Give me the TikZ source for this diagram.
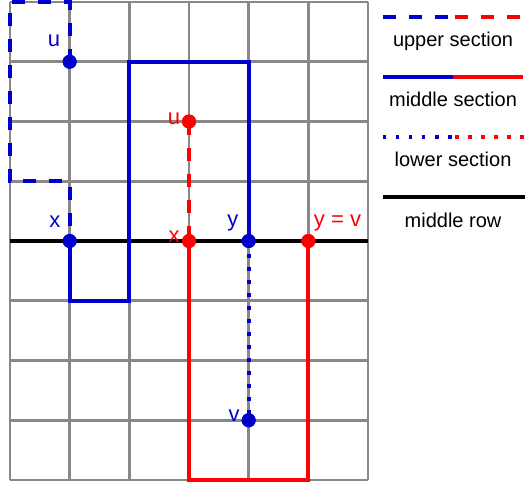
\documentclass[tikz,border=0pt]{standalone}
\usepackage{fontspec}
\setmainfont{Liberation Sans}
\definecolor{myblue}{RGB}{0,0,204}
\definecolor{myred}{RGB}{255,0,0}
\definecolor{gridgray}{RGB}{136,136,136}
\tikzset{
  gridline/.style={draw=gridgray, line width=2.8pt},
  rowline/.style={draw=black, line width=4.2pt},
  upperb/.style={draw=myblue, line width=4pt, dash pattern=on 13pt off 13pt},
  upperr/.style={draw=myred, line width=4pt, dash pattern=on 13pt off 13pt},
  middleb/.style={draw=myblue, line width=4pt},
  middler/.style={draw=myred, line width=4pt},
  lowerb/.style={draw=myblue, line width=4pt, dash pattern=on 3.5pt off 9.5pt},
  lowerr/.style={draw=myred, line width=4pt, dash pattern=on 3.5pt off 9.5pt},
  bdot/.style={circle, fill=myblue, minimum size=14pt, inner sep=0pt},
  rdot/.style={circle, fill=myred, minimum size=14pt, inner sep=0pt},
  lbl/.style={anchor=base, inner sep=0pt, font=\fontsize{22}{26}\selectfont},
  blbl/.style={lbl, text=myblue},
  rlbl/.style={lbl, text=myred},
  legtext/.style={anchor=base, inner sep=0pt, font=\fontsize{20}{24}\selectfont, text=black}
}
\begin{document}
\begin{tikzpicture}[x=59.667pt, y=-59.75pt]
\useasboundingbox (-0.1676,-0.0335) rectangle (8.631,8.0837);
% grid
\foreach \i in {0,...,6} { \draw[gridline] (\i,0) -- (\i,8); }
\foreach \j in {0,...,8} { \draw[gridline] (0,\j) -- (6,\j); }
% middle row
\coordinate (rowL) at (0,4);
\coordinate (rowR) at (6,4);
\draw[rowline] (rowL) -- (rowR);
% corner coordinates
\coordinate (b1) at (1,0);
\coordinate (b2) at (0,0);
\coordinate (b3) at (0,3);
\coordinate (b4) at (1,3);
\coordinate (b5) at (1,5);
\coordinate (b6) at (2,5);
\coordinate (b7) at (2,1);
\coordinate (b8) at (4,1);
\coordinate (r1) at (3,8);
\coordinate (r2) at (5,8);
% dots (positions)
\node[bdot] (bu) at (1,1) {};
\node[bdot] (bx) at (1,4) {};
\node[bdot] (by) at (4,4) {};
\node[bdot] (bv) at (4,7) {};
\node[rdot] (ru) at (3,2) {};
\node[rdot] (rx) at (3,4) {};
\node[rdot] (ry) at (5,4) {};
% blue paths
\draw[upperb] (bu.center) -- (b1) -- (b2) -- (b3) -- (b4) -- (bx.center);
\draw[middleb] (bx.center) -- (b5) -- (b6) -- (b7) -- (b8) -- (by.center);
\draw[lowerb] (by.center) -- (bv.center);
% red paths
\draw[upperr] (ru.center) -- (rx.center);
\draw[middler] (rx.center) -- (r1) -- (r2) -- (ry.center);
% redraw dots on top
\node[bdot] at (bu) {};
\node[bdot] at (bx) {};
\node[bdot] at (by) {};
\node[bdot] at (bv) {};
\node[rdot] at (ru) {};
\node[rdot] at (rx) {};
\node[rdot] at (ry) {};
% labels
\node[blbl] (lbu) at (0.737,0.753) {u};
\node[blbl] (lbx) at (0.754,3.766) {x};
\node[blbl] (lby) at (3.737,3.749) {y};
\node[blbl] (lbv) at (3.754,7.013) {v};
\node[rlbl] (lru) at (2.749,2.042) {u};
\node[rlbl] (lrx) at (2.749,4.017) {x};
\node[rlbl] (lry) at (5.489,3.749) {y = v};
% legend
\coordinate (l1a) at (6.251,0.251);
\coordinate (l1m) at (7.458,0.251);
\coordinate (l1b) at (8.631,0.251);
\draw[upperb] (l1a) -- (l1m);
\draw[upperr] (l1m) -- (l1b);
\node[legtext] (t1) at (7.425,0.753) {upper section};
\coordinate (l2a) at (6.251,1.255);
\coordinate (l2m) at (7.425,1.255);
\coordinate (l2b) at (8.60,1.255);
\draw[middleb] (l2a) -- (l2m);
\draw[middler] (l2m) -- (l2b);
\node[legtext] (t2) at (7.425,1.757) {middle section};
\coordinate (l3a) at (6.251,2.259);
\coordinate (l3m) at (7.458,2.259);
\coordinate (l3b) at (8.631,2.259);
\draw[lowerb] (l3a) -- (l3m);
\draw[lowerr] (l3m) -- (l3b);
\node[legtext] (t3) at (7.425,2.745) {lower section};
\coordinate (l4a) at (6.251,3.264);
\coordinate (l4b) at (8.631,3.264);
\draw[rowline] (l4a) -- (l4b);
\node[legtext] (t4) at (7.425,3.766) {middle row};
\end{tikzpicture}
\end{document}
